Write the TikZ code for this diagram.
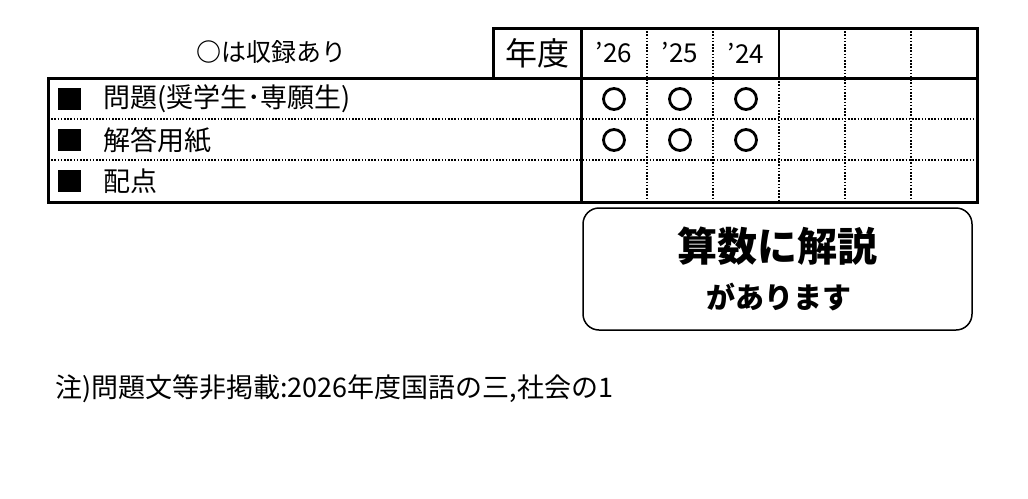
\documentclass[tikz,border=0pt]{standalone}
\usepackage{fontspec}
\setmainfont{Noto Sans CJK JP}
\begin{document}
\begin{tikzpicture}[x=1pt,y=-1pt,
  thickl/.style={line width=3pt},
  dotl/.style={line width=1.6pt,dash pattern=on 1.6pt off 1.6pt},
  txt/.style={anchor=west,inner sep=0pt,font=\fontsize{27}{27}\selectfont},
  mk/.style={circle,draw,line width=2.8pt,minimum size=21pt,inner sep=0pt}]
\useasboundingbox (0,0) rectangle (1028,498);
\foreach \y in {119,160} \draw[dotl] (48,\y) -- (977,\y);
\foreach \x in {647,713,845,911} \draw[dotl] (\x,28) -- (\x,202);
\draw[dotl] (779,78) -- (779,202);
\draw[line width=2pt] (779,28) -- (779,78);
\draw[thickl] (493,28) rectangle (977,78);
\draw[thickl] (48,78) rectangle (977,202);
\draw[thickl] (581,28) -- (581,202);
\node[font=\fontsize{25}{25}\selectfont] (legend) at (271,52) {\textbf{○}は収録あり};
\node[font=\fontsize{32}{32}\selectfont] (nendo) at (537,53) {年度};
\node[font=\fontsize{26}{26}\selectfont] (y26) at (614,53) {’26};
\node[font=\fontsize{26}{26}\selectfont] (y25) at (680,53) {’25};
\node[font=\fontsize{26}{26}\selectfont] (y24) at (746,53) {’24};
\foreach \y/\t/\n in {99/問題(奨学生･専願生)/r1,140/解答用紙/r2,181/配点/r3}{
  \fill (58,\y-11) rectangle (81,\y+11);
  \node[txt] (\n) at (103,\y) {\t};
}
\foreach \x in {614,680,746} {
  \node[mk] at (\x,99) {};
  \node[mk] at (\x,140) {};
}
\node[draw,line width=1.5pt,rounded corners=16pt,minimum width=389pt,minimum height=122pt] (box) at (777.5,269) {};
\node[font=\fontsize{40}{40}\selectfont\bfseries] (b1) at (777,246) {算数に解説};
\node[font=\fontsize{29}{29}\selectfont\bfseries] (b2) at (779,297) {があります};
\node[txt] (note) at (55,389) {注)問題文等非掲載:2026年度国語の三,社会の1};
\end{tikzpicture}
\end{document}
